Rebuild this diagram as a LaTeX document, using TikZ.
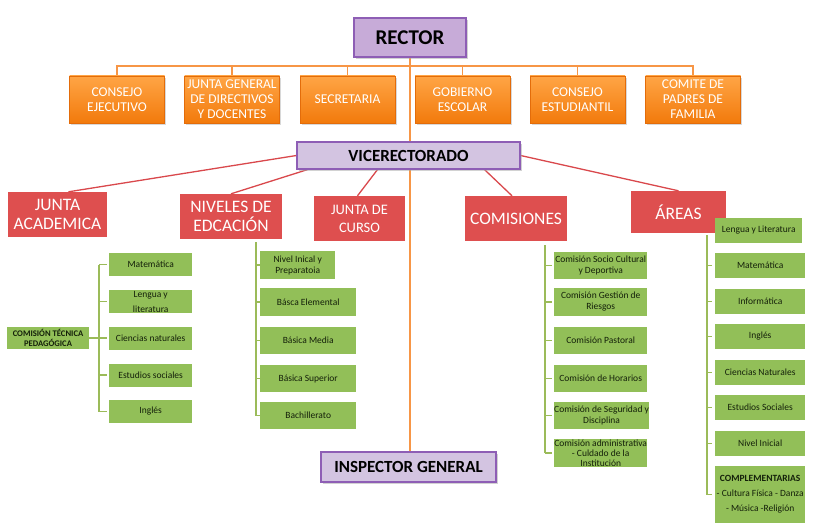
\documentclass[tikz,border=0pt]{standalone}
\usepackage{fontspec}
\setmainfont{Carlito}
\usetikzlibrary{positioning,shadows,backgrounds}

\definecolor{orgTop}{HTML}{FFA545}
\definecolor{orgBot}{HTML}{F27A0C}
\definecolor{orgEdge}{HTML}{E36C0A}
\definecolor{orgLine}{HTML}{F79646}
\definecolor{rectFill}{HTML}{C7ABD8}
\definecolor{viceFill}{HTML}{D3C4E1}
\definecolor{purEdge}{HTML}{8E5EB5}
\definecolor{redFill}{HTML}{DE4F4F}
\definecolor{redLine}{HTML}{D9484C}
\definecolor{grnFill}{HTML}{92BF58}
\definecolor{grnLine}{HTML}{9BBB59}
\definecolor{grnText}{HTML}{14200A}

\begin{document}
\begin{tikzpicture}[x=1pt,y=-1pt,
    mainbox/.style={draw=purEdge,line width=1.2pt,fill=viceFill,inner sep=0pt,
      font=\bfseries\fontsize{17}{19}\selectfont,
      drop shadow={shadow xshift=1.5pt,shadow yshift=-2pt,fill=black!35}},
    orgbox/.style={draw=orgEdge,line width=0.4pt,top color=orgTop,bottom color=orgBot,
      text=white,minimum width=95pt,minimum height=47pt,inner sep=0pt,align=center,
      font=\fontsize{13.5}{15}\selectfont,
      drop shadow={shadow xshift=1.5pt,shadow yshift=-2pt,fill=black!30}},
    redbox/.style={fill=redFill,text=white,inner sep=0pt,align=center,
      minimum height=45pt,font=\fontsize{17.5}{19}\selectfont},
    grnbox/.style={fill=grnFill,text=grnText,inner sep=0pt,align=center,
      font=\fontsize{9.5}{11}\selectfont},
    lbox/.style={grnbox,anchor=west,minimum width=83pt,minimum height=23pt},
    nbox/.style={grnbox,anchor=west,minimum width=96pt,minimum height=27.5pt},
    cbox/.style={grnbox,anchor=west,minimum width=93pt,minimum height=27.5pt},
    abox/.style={grnbox,anchor=west,minimum width=90pt,minimum height=25pt},
    orgline/.style={draw=orgLine,line width=1.6pt},
    redline/.style={draw=redLine,line width=1.3pt},
    grnline/.style={draw=grnLine,line width=1.3pt}
  ]
  \useasboundingbox (0,0) rectangle (830,527);

  % top level
  \node[mainbox,fill=rectFill,minimum width=112pt,minimum height=39pt,
    font=\bfseries\fontsize{21}{23}\selectfont] (rector) at (410,37.5) {RECTOR};
  \coordinate (bus) at (410,66);

  \node[orgbox] (cejec) at (117,99.5) {CONSEJO\\EJECUTIVO};
  \node[orgbox] (jgen) at (232,99.5) {JUNTA GENERAL\\DE DIRECTIVOS\\Y DOCENTES};
  \node[orgbox] (secre) at (347.5,99.5) {SECRETARIA};
  \node[orgbox] (gesc) at (462.5,99.5) {GOBIERNO\\ESCOLAR};
  \node[orgbox] (cest) at (577.5,99.5) {CONSEJO\\ESTUDIANTIL};
  \node[orgbox] (cpad) at (693,99.5) {COMITE DE\\PADRES DE\\FAMILIA};

  \node[mainbox,minimum width=223pt,minimum height=27pt] (vice) at (408.5,155.5) {VICERECTORADO};
  \node[mainbox,minimum width=175pt,minimum height=30pt] (insp) at (408.5,467) {INSPECTOR GENERAL};

  % vicerrectorado
  \node[redbox,minimum width=99pt] (jacad) at (57.5,214.5) {JUNTA\\ACADEMICA};
  \node[redbox,minimum width=102pt] (nivel) at (231,216.5) {NIVELES DE\\EDCACIÓN};
  \node[redbox,minimum width=91pt,font=\fontsize{14.5}{18}\selectfont] (jcurso) at (359.5,218.5) {JUNTA DE\\CURSO};
  \node[redbox,minimum width=102pt] (comis) at (516,218.5) {COMISIONES};
  \node[redbox,minimum width=95pt,minimum height=42pt] (areas) at (678.5,212) {ÁREAS};

  % junta academica
  \node[grnbox,minimum width=82pt,minimum height=22pt,
    font=\bfseries\fontsize{8.6}{10}\selectfont] (ctp) at (48,338) {COMISIÓN TÉCNICA\\PEDAGÓGICA};
  \node[lbox] (lmat) at (109,264.5) {Matemática};
  \node[lbox,font=\fontsize{9.5}{15}\selectfont] (lleng) at (109,301.5) {Lengua y\\literatura};
  \node[lbox] (lcien) at (109,338) {Ciencias naturales};
  \node[lbox] (lestu) at (109,375) {Estudios sociales};
  \node[lbox] (lingl) at (109,411.5) {Inglés};

  % niveles
  \node[nbox,minimum width=75pt] (nini) at (260,265) {Nivel Inical y\\Preparatoia};
  \node[nbox] (nele) at (260,302) {Básca Elemental};
  \node[nbox] (nmed) at (260,340.5) {Básica Media};
  \node[nbox] (nsup) at (260,378.5) {Básica Superior};
  \node[nbox] (nbach) at (260,415.5) {Bachillerato};

  % comisiones
  \node[cbox] (csoc) at (554,265.5) {Comisión Socio Cultural\\y Deportiva};
  \node[cbox] (cries) at (554,302) {Comisión Gestión de\\Riesgos};
  \node[cbox] (cpas) at (554,340.5) {Comisión Pastoral};
  \node[cbox] (chor) at (554,378.5) {Comisión de Horarios};
  \node[cbox] (cseg) at (554,415.5) {Comisión de Seguridad y\\Disciplina};
  \node[cbox,font=\fontsize{9.5}{10}\selectfont] (cadm) at (554,453) {Comisión administrativa\\- Culdado de la\\Institución};

  % areas
  \node[abox,minimum width=87pt] (aleng) at (715,230.5) {Lengua y Literatura};
  \node[abox] (amat) at (715,265.5) {Matemática};
  \node[abox] (ainf) at (715,301.5) {Informática};
  \node[abox] (aing) at (715,336.5) {Inglés};
  \node[abox] (acien) at (715,372.5) {Ciencias Naturales};
  \node[abox] (aest) at (715,407.5) {Estudios Sociales};
  \node[abox] (anini) at (715,443.5) {Nivel Inicial};
  \node[abox,minimum height=57pt,font=\fontsize{9.5}{15}\selectfont] (acomp) at (715,494.5)
    {\textbf{COMPLEMENTARIAS}\\- Cultura Física - Danza\\- Música -Religión};

  \begin{scope}[on background layer]
    \draw[orgline] (rector.south) -- (rector.south |- insp.north);
    \draw[orgline] (cejec.north) -- (cejec.north |- bus) -- (cpad.north |- bus) -- (cpad.north);
    \foreach \n in {jgen,secre,gesc,cest}
      \draw[orgline] (\n.north) -- (\n.north |- bus);

    \draw[redline] (vice.west) -- ([xshift=11pt]jacad.north);
    \draw[redline] ([xshift=-101pt]vice.south) -- (nivel.north);
    \draw[redline] ([xshift=-31pt]vice.south) -- ([xshift=-2pt]jcurso.north);
    \draw[redline] ([xshift=76pt]vice.south) -- ([xshift=-4pt]comis.north);
    \draw[redline] (vice.east) -- (areas.north);

    \draw[grnline] ([xshift=-10pt]lmat.west) -- ([xshift=-10pt]lingl.west);
    \foreach \n in {lmat,lleng,lcien,lestu,lingl}
      \draw[grnline] ([xshift=-10pt]\n.west) -- ([xshift=-2pt]\n.west);
    \draw[grnline] (ctp.east) -- ([xshift=-10pt]lcien.west);

    \draw[grnline] ([xshift=25pt,yshift=-3pt]nivel.south) -- ([xshift=-4pt]nbach.west);
    \foreach \n in {nini,nele,nmed,nsup,nbach}
      \draw[grnline] ([xshift=-4pt]\n.west) -- (\n.west);

    \draw[grnline] ([xshift=29pt,yshift=-4pt]comis.south) -- ([xshift=-9pt]cadm.west);
    \foreach \n in {csoc,cries,cpas,chor,cseg,cadm}
      \draw[grnline] ([xshift=-9pt]\n.west) -- ([xshift=-2pt]\n.west);

    \draw[grnline] ([xshift=28.5pt,yshift=-2pt]areas.south) -- ([xshift=-8pt]acomp.west);
    \foreach \n in {amat,ainf,aing,acien,aest,anini,acomp}
      \draw[grnline] ([xshift=-8pt]\n.west) -- ([xshift=-3pt]\n.west);
  \end{scope}
\end{tikzpicture}
\end{document}
